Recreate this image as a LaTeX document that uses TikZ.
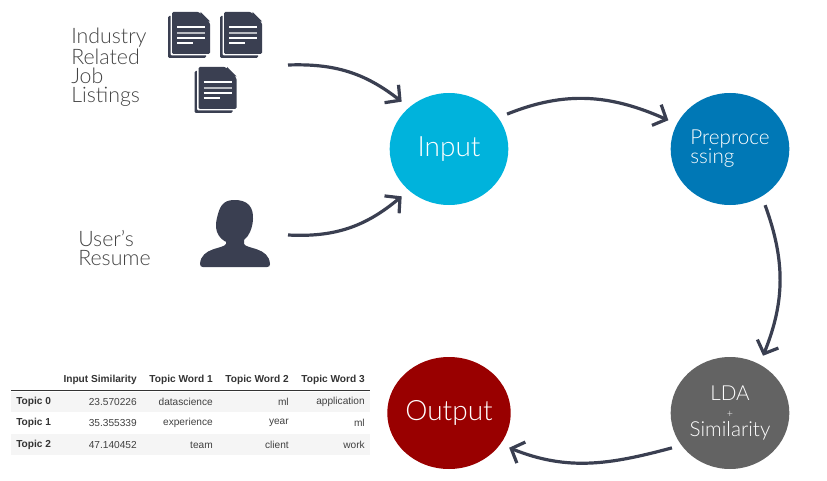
\documentclass[tikz,border=0pt]{standalone}
\usepackage{fontspec}
\setmainfont{Lato}[UprightFont=* Light]
\newfontfamily\tablefont{Liberation Sans}
\usetikzlibrary{arrows.meta,shapes.geometric,hobby}
\definecolor{inputblue}{HTML}{00B3DC}
\definecolor{prepblue}{HTML}{0078B6}
\definecolor{ldagray}{HTML}{636363}
\definecolor{outputred}{HTML}{990000}
\definecolor{slate}{HTML}{3A3F51}
\definecolor{labelgray}{HTML}{444444}
\definecolor{rowgray}{HTML}{F5F5F5}
\tikzset{
  stage/.style={ellipse,minimum width=89pt,minimum height=84pt,inner sep=0pt,outer sep=7pt,text=white},
  flow/.style={draw=slate,line width=2.4pt,-{Straight Barb[length=8pt,width=17pt,line width=2.4pt]}},
  sidelabel/.style={text=labelgray,font=\fontsize{16}{14.25}\selectfont,align=left,anchor=west,inner sep=0pt},
  headcell/.style={anchor=east,inner sep=0pt,text=black!80,font=\tablefont\bfseries\fontsize{7.6}{9}\selectfont},
  bodycell/.style={anchor=east,inner sep=0pt,text=black!75,font=\tablefont\fontsize{7.6}{9}\selectfont},
  rowname/.style={anchor=west,inner sep=0pt,text=black!80,font=\tablefont\bfseries\fontsize{7.6}{9}\selectfont},
  pics/docicon/.style={code={
    \fill[slate,rounded corners=1pt] (-4,4) rectangle (34,46);
    \fill[white,rounded corners=1pt] (-1.5,-1.5) rectangle (39.5,43.5);
    \fill[slate,rounded corners=1pt] (0,0) -- (27,0) -- (38,11) -- (38,42) -- (0,42) -- cycle;
    \fill[slate] (28.5,0) -- (38,9.5) -- (28.5,9.5) -- cycle;
    \draw[white,line width=.8pt] (5,15) -- (33,15) (5,26) -- (33,26) (5,31) -- (21,31);
    \draw[white!65!slate,line width=1.2pt] (5,21) -- (33,21);
  }}
}
\begin{document}
\begin{tikzpicture}[x=0.75pt,y=-0.75pt]
    \useasboundingbox (0,0) rectangle (827,481);
    % stages
    \node[stage,fill=inputblue,font=\fontsize{21}{21}\selectfont] (input) at (449,149) {Input};
    \node[stage,fill=prepblue,font=\fontsize{15.5}{14.25}\selectfont,align=left] (prep) at (730,149) {Preproce\\ssing};
    \node[stage,fill=ldagray,font=\fontsize{15.5}{14.25}\selectfont,align=center] (lda) at (730,413) {LDA\\[-1pt]{\fontsize{8}{8}\selectfont +}\\[0pt]Similarity};
    \node[stage,fill=outputred,font=\fontsize{21}{21}\selectfont] (output) at (449,413) {Output};
    % left side
    \node[sidelabel] (listings) at (71,67.5) {Industry\\Related\\Job\\Listings};
    \node[sidelabel] (resume) at (78,248.5) {User's\\Resume};
    \pic (doca) at (172,12) {docicon};
    \pic (docb) at (224,12) {docicon};
    \pic (docc) at (198.5,67) {docicon};
    \fill[slate,use Hobby shortcut,closed=true]
    (235,200) .. (249,205) .. (253,219) .. (250,232) .. (244,240) .. (217,232) .. (218,214) .. (224,203);
    \fill[slate] (226,232) -- (244,232) -- (244,244) .. controls (246,249) and (269,247) .. (270,264)
    .. controls (270,266) and (269,267) .. (267,267) -- (203,267) .. controls (201,267) and (200,266) .. (200,264)
    .. controls (201,247) and (224,249) .. (226,244) -- cycle;
    \coordinate (listingsout) at (288,65);
    \coordinate (resumeout) at (288,235);
    % arrows
    \draw[flow] (listingsout) to[out=2,in=142] (input.135);
    \draw[flow] (resumeout) to[out=-3,in=-140] (input.-135);
    \draw[flow] (input.31) to[out=22,in=156] (prep.155);
    \draw[flow] (prep.-58) to[out=-70,in=68] (lda.60);
    \draw[flow] (lda.-149) to[out=-165,in=-22] (output.-30);
    % table
    \fill[rowgray] (11,392) rectangle (370,412);
    \fill[rowgray] (11,434) rectangle (370,455);
    \draw[black!80,line width=.9pt] (11,390.5) -- (370,390.5);
    \node[headcell] (hsim) at (137,380) {Input Similarity};
    \node[headcell] (hone) at (213,380) {Topic Word 1};
    \node[headcell] (htwo) at (289,380) {Topic Word 2};
    \node[headcell] (hthree) at (365,380) {Topic Word 3};
    \foreach \r/\y/\s/\a/\b/\c in {0/402/23.570226/datascience/ml/application,1/423/35.355339/experience/year/ml,2/445/47.140452/team/client/work}{
      \node[rowname] (name\r) at (16,\y) {Topic \r};
      \node[bodycell] (sim\r) at (137,\y) {\s};
      \node[bodycell] (one\r) at (213,\y) {\a};
      \node[bodycell] (two\r) at (289,\y) {\b};
      \node[bodycell] (three\r) at (365,\y) {\c};
    }
\end{tikzpicture}
\end{document}
